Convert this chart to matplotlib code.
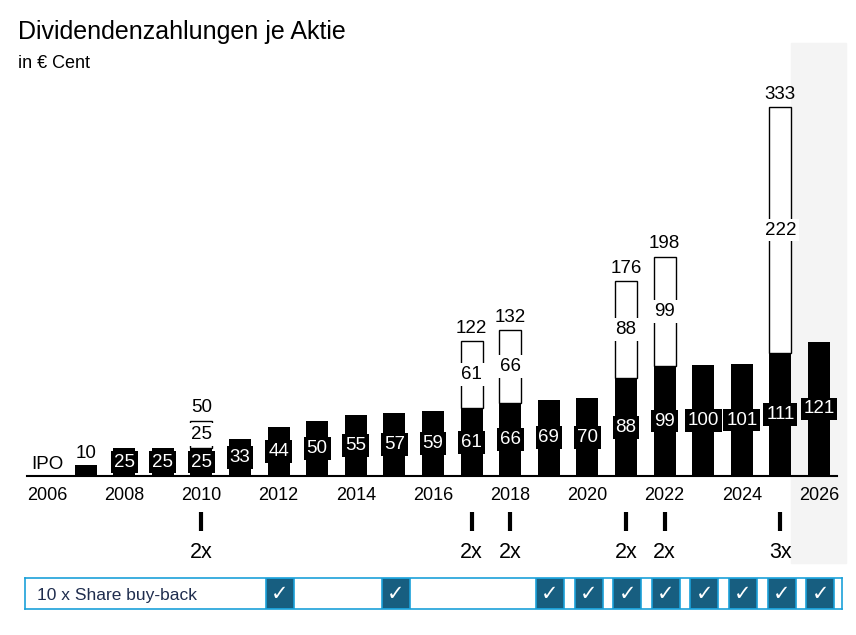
import numpy as np
import matplotlib.pyplot as plt
from matplotlib.patches import Rectangle

plt.rcParams['font.family'] = ['Liberation Sans', 'DejaVu Sans']

# data
years = list(range(2007, 2027))
dividend = [10, 25, 25, 25, 33, 44, 50, 55, 57, 59, 61, 66, 69, 70, 88, 99, 100, 101, 111, 121]
special_years = [2010, 2017, 2018, 2021, 2022, 2025]
special = [25, 61, 66, 88, 99, 222]
buyback_years = [2012, 2015, 2019, 2020, 2021, 2022, 2023, 2024, 2025, 2026]
tick_years = list(range(2006, 2027, 2))

W, H = 856, 635
fig = plt.figure(figsize=(W / 100, H / 100), dpi=100)

# pixel -> data mapping helpers
upx = 20 / 772.0          # years per pixel
x0 = 2006 - 47 * upx      # year at pixel 0
def px2yr(p):
    return x0 + p * upx

# shaded forecast column
bg = fig.add_axes([0, 0, 1, 1], zorder=-1)
bg.axis('off')
bg.set_xlim(0, W)
bg.set_ylim(H, 0)
bg.add_patch(Rectangle((791, 43), 55, 520, color='#f4f4f4'))

ax = fig.add_axes([27 / W, (H - 476) / H, 810 / W, 433 / H])
ax.set_facecolor('none')
ax.set_xlim(px2yr(27), px2yr(837))
ax.set_ylim(0, 433 / 1.108)
for s in ['top', 'right', 'left']:
    ax.spines[s].set_visible(False)
ax.spines['bottom'].set_linewidth(1.5)
ax.set_yticks([])
ax.set_xticks(tick_years)
ax.tick_params(axis='x', length=0, labelsize=13, pad=8)

bw = 0.57
bars = ax.bar(years, dividend, width=bw, color='black', zorder=2)
base = dict(zip(years, dividend))
sp_bottom = [base[y] for y in special_years]
sp_bars = ax.bar(special_years, special, bottom=sp_bottom, width=bw,
                 facecolor='white', edgecolor='black', linewidth=1, zorder=1)

# labels inside bars
for y, v in zip(years, dividend):
    if v < 20:
        ax.text(y, v + 3, str(v), ha='center', va='bottom', fontsize=13.5, zorder=4)
    else:
        ax.text(y, v / 2, str(v), ha='center', va='center', fontsize=13.5, color='white',
                zorder=4, bbox=dict(boxstyle='square,pad=0.15', fc='black', ec='none'))

# special dividends
for y, b, s in zip(special_years, sp_bottom, special):
    ax.text(y, b + s / 2, str(s), ha='center', va='center', fontsize=13.5, zorder=4,
            bbox=dict(boxstyle='square,pad=0.15', fc='white', ec='none'))
    ax.annotate(str(b + s), (y, b + s), xytext=(0, 3), textcoords='offset points',
                ha='center', va='bottom', fontsize=13.5, zorder=4)

ax.text(2006, 3, 'IPO', ha='center', va='bottom', fontsize=13.5)

# multiple markers
tr = ax.get_xaxis_transform()
for y, b, s in zip(special_years, sp_bottom, special):
    ax.plot([y, y], [-36 / 433, -55 / 433], transform=tr, color='black', lw=3,
            clip_on=False, solid_capstyle='butt')
    ax.text(y, -77 / 433, f'{round((b + s) / b)}x', transform=tr, ha='center',
            va='center', fontsize=15.5)

# title
fig.text(18 / W, 1 - 32 / H, 'Dividendenzahlungen je Aktie', fontsize=18, va='center')
fig.text(18 / W, 1 - 63 / H, 'in € Cent', fontsize=13, va='center')

# share buy-back row
bx = fig.add_axes([25 / W, (H - 609) / H, 817 / W, 31 / H])
bx.set_xlim(px2yr(25), px2yr(842))
bx.set_ylim(0, 1)
bx.set_xticks([])
bx.set_yticks([])
for s in bx.spines.values():
    s.set_color('#1ba1d9')
    s.set_linewidth(1.2)
cw = 28 * upx
for y in buyback_years:
    bx.add_patch(Rectangle((y + 0.03 - cw / 2, 0), cw, 1, facecolor='#175e80',
                           edgecolor='#1ba1d9', linewidth=1.2))
    bx.text(y + 0.03, 0.5, '✓', ha='center', va='center', color='white',
            fontsize=15, family=['DejaVu Sans'])
bx.text(px2yr(37), 0.45, '10 x Share buy-back', ha='left', va='center',
        fontsize=12.5, color='#1f2d4e')

fig.savefig('out.png', dpi=100)
